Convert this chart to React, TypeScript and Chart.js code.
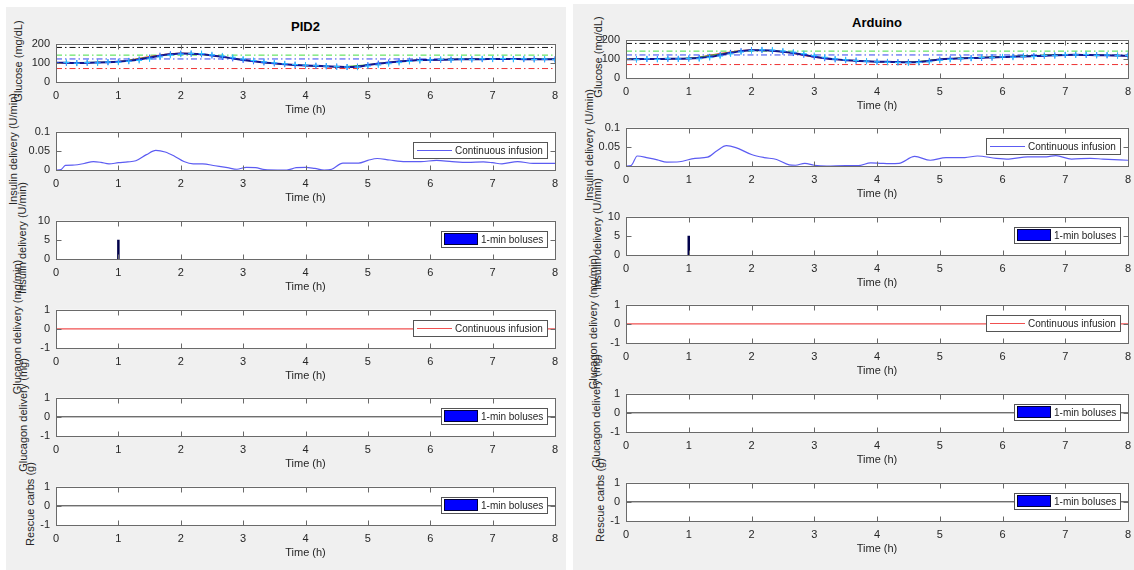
import React, { useEffect, useRef } from 'react';
import { Chart, registerables } from 'chart.js';

Chart.register(...registerables);

const FONT = '"Liberation Sans", Arial, Helvetica, sans-serif';
const TEXT = '#262626';

// ---------- shared axes ----------
const xTicks = [0, 1, 2, 3, 4, 5, 6, 7, 8];
const glucoseTicks = [0, 100, 200];
const insulinTicks = [0, 0.05, 0.1];
const bolusTicks = [0, 5, 10];
const unitTicks = [-1, 0, 1];

const timeMin10 = [0, 10, 20, 30, 40, 50, 60, 70, 80, 90, 100, 110, 120, 130, 140, 150, 160, 170, 180, 190, 200, 210, 220, 230, 240, 250, 260, 270, 280, 290, 300, 310, 320, 330, 340, 350, 360, 370, 380, 390, 400, 410, 420, 430, 440, 450, 460, 470, 480];
const timeMin30 = [0, 30, 60, 90, 120, 150, 180, 210, 240, 270, 300, 330, 360, 390, 420, 450, 480];

const thresholdLevels = [180, 140, 120, 70];
const thresholdColors = ['#111111', '#44dd44', '#3344ee', '#ee3333'];

// ---------- PID2 ----------
const pidBG = [100, 100, 99, 100, 101, 103, 106, 110, 117, 127, 137, 144, 148, 147, 144, 138, 131, 123, 115, 108, 102, 97, 93, 89, 86, 84, 82, 80, 78, 80, 88, 96, 102, 107, 111, 114, 115, 116, 117, 118, 119, 119, 120, 120, 120, 119, 119, 118, 118];
const pidCGM = [97, 102, 98, 101, 99, 104, 103, 108, 112, 120, 130, 139, 145, 149, 148, 142, 136, 129, 120, 112, 105, 100, 95, 91, 88, 85, 83, 80, 78, 77, 83, 88, 95, 101, 107, 111, 115, 118, 115, 120, 117, 121, 119, 122, 118, 121, 117, 120, 116];
const pidRed = [100, 101, 106, 133, 150, 139, 116, 96, 85, 78, 88, 106, 115, 118, 120, 119, 118];
const pidGreen = [101, 102, 106, 130, 149, 138, 115, 96, 86, 80, 90, 108, 116, 119, 120, 120, 119];
const pidInsT = [0, 0.08, 0.15, 0.3, 0.45, 0.6, 0.72, 0.85, 1.0, 1.15, 1.28, 1.45, 1.6, 1.75, 1.9, 2.05, 2.2, 2.35, 2.55, 2.75, 2.9, 3.05, 3.2, 3.35, 3.55, 3.7, 3.85, 4.0, 4.15, 4.3, 4.42, 4.6, 4.85, 5.0, 5.15, 5.35, 5.6, 5.85, 6.1, 6.35, 6.6, 6.85, 7.0, 7.15, 7.4, 7.65, 8.0];
const pidInsV = [0, 0.001, 0.012, 0.013, 0.017, 0.022, 0.02, 0.016, 0.019, 0.021, 0.024, 0.04, 0.051, 0.047, 0.036, 0.022, 0.016, 0.016, 0.011, 0.006, 0.002, 0.007, 0.006, 0.001, 0, 0, 0.006, 0.007, 0.004, 0, 0.002, 0.018, 0.018, 0.025, 0.03, 0.026, 0.022, 0.022, 0.025, 0.022, 0.02, 0.021, 0.019, 0.016, 0.022, 0.017, 0.017];

// ---------- Arduino ----------
const ardBG = [98, 98, 99, 99, 100, 100, 101, 104, 110, 120, 131, 140, 145, 145, 142, 137, 130, 121, 111, 103, 97, 93, 90, 87, 85, 84, 83, 82, 83, 89, 96, 100, 102, 104, 105, 107, 109, 111, 112, 114, 116, 118, 120, 121, 120, 119, 118, 117, 116];
const ardCGM = [99, 96, 100, 97, 101, 99, 102, 100, 106, 114, 125, 135, 142, 147, 146, 141, 135, 127, 117, 108, 100, 95, 91, 88, 84, 82, 80, 79, 81, 84, 92, 97, 101, 103, 107, 106, 110, 108, 113, 112, 117, 116, 121, 120, 123, 118, 120, 116, 117];
const ardRed = [98, 99, 102, 128, 146, 136, 108, 92, 84, 82, 97, 105, 110, 116, 121, 118, 116];
const ardGreen = [99, 100, 103, 125, 145, 137, 111, 93, 85, 83, 98, 106, 111, 117, 122, 119, 117];
const ardInsT = [0, 0.08, 0.18, 0.35, 0.5, 0.65, 0.85, 1.1, 1.3, 1.45, 1.6, 1.75, 2.0, 2.2, 2.4, 2.6, 2.7, 2.85, 3.0, 3.2, 3.5, 3.7, 3.9, 4.05, 4.2, 4.35, 4.6, 4.85, 5.1, 5.4, 5.6, 5.9, 6.1, 6.4, 6.7, 6.85, 7.1, 7.4, 7.6, 8.0];
const ardInsV = [0, 0.001, 0.026, 0.021, 0.016, 0.01, 0.011, 0.02, 0.023, 0.04, 0.053, 0.048, 0.03, 0.022, 0.017, 0.003, 0.002, 0.007, 0.002, 0, 0.001, 0.001, 0.008, 0.007, 0.006, 0.007, 0.025, 0.015, 0.022, 0.022, 0.026, 0.02, 0.018, 0.024, 0.024, 0.027, 0.018, 0.02, 0.018, 0.015];

// ---------- boluses / glucagon / carbs (both controllers) ----------
const bolusT = [1];
const bolusU = [5];
const flatT = [0, 8];
const flatV = [0, 0];

const yLabels = [
  'Glucose (mg/dL)',
  'Insulin delivery (U/min)',
  'Insulin delivery (U/min)',
  'Glucagon delivery (mg/min)',
  'Glucagon delivery (mg)',
  'Rescue carbs (g)',
];

// ---------- layout ----------
const PADL = 50;
const PADT = 8;
const PADR = 12;
const PADB = 35;

type Legend = { kind: 'line' | 'rect'; color: string; text: string };
type Spec = {
  key: string;
  x: number;
  y: number;
  w: number;
  h: number;
  yMin: number;
  yMax: number;
  yTicks: number[];
  datasets: any[];
  legend?: Legend;
};

const pts = (t: number[], v: number[], scaleT = 1) => t.map((tt, i) => ({ x: tt / scaleT, y: v[i] }));

function glucoseSets(bg: number[], cgm: number[], red: number[], green: number[]) {
  const thr = thresholdLevels.map((lv, i) => ({
    data: [{ x: 0, y: lv }, { x: 8, y: lv }],
    borderColor: thresholdColors[i],
    borderWidth: 1,
    borderDash: [6, 3, 1.5, 3],
    pointRadius: 0,
  }));
  // first dataset is drawn on top
  return [
    { data: pts(timeMin10, cgm, 60), showLine: false, pointStyle: 'cross', pointRadius: 3, pointBorderWidth: 1, pointBorderColor: '#2ec4ff', borderColor: '#2ec4ff' },
    { data: pts(timeMin10, bg, 60), borderColor: '#14148a', borderWidth: 2, pointStyle: 'cross', pointRadius: 3, pointBorderWidth: 1, pointBorderColor: '#2040ff', cubicInterpolationMode: 'monotone' },
    { data: pts(timeMin30, green, 60), borderColor: '#30c030', borderWidth: 1, pointRadius: 0, cubicInterpolationMode: 'monotone' },
    { data: pts(timeMin30, red, 60), borderColor: '#f04040', borderWidth: 1, pointRadius: 0, cubicInterpolationMode: 'monotone' },
    ...thr,
  ];
}

function bolusSet() {
  const data: any[] = [];
  bolusT.forEach((t, i) => {
    data.push({ x: t, y: 0 }, { x: t, y: bolusU[i] }, { x: t, y: NaN });
  });
  return [{ data, borderColor: '#00004a', borderWidth: 2.5, pointRadius: 0, spanGaps: false }];
}

function panelSpecs(prefix: string, plotX: number, plotW: number, tops: number[], h: number, bg: number[], cgm: number[], red: number[], green: number[], insT: number[], insV: number[]): Spec[] {
  const base = { x: plotX, w: plotW, h };
  return [
    { ...base, key: prefix + '1', y: tops[0], yMin: 0, yMax: 200, yTicks: glucoseTicks, datasets: glucoseSets(bg, cgm, red, green) },
    { ...base, key: prefix + '2', y: tops[1], yMin: 0, yMax: 0.1, yTicks: insulinTicks, datasets: [{ data: pts(insT, insV), borderColor: '#5c5cf2', borderWidth: 1.2, pointRadius: 0, cubicInterpolationMode: 'monotone' }], legend: { kind: 'line', color: '#5c5cf2', text: 'Continuous infusion' } },
    { ...base, key: prefix + '3', y: tops[2], yMin: 0, yMax: 10, yTicks: bolusTicks, datasets: bolusSet(), legend: { kind: 'rect', color: '#0000ff', text: '1-min boluses' } },
    { ...base, key: prefix + '4', y: tops[3], yMin: -1, yMax: 1, yTicks: unitTicks, datasets: [{ data: pts(flatT, flatV), borderColor: '#f05050', borderWidth: 1.2, pointRadius: 0 }], legend: { kind: 'line', color: '#f05050', text: 'Continuous infusion' } },
    { ...base, key: prefix + '5', y: tops[4], yMin: -1, yMax: 1, yTicks: unitTicks, datasets: [{ data: pts(flatT, flatV), borderColor: '#333333', borderWidth: 1, pointRadius: 0 }], legend: { kind: 'rect', color: '#0000ff', text: '1-min boluses' } },
    { ...base, key: prefix + '6', y: tops[5], yMin: -1, yMax: 1, yTicks: unitTicks, datasets: [{ data: pts(flatT, flatV), borderColor: '#333333', borderWidth: 1, pointRadius: 0 }], legend: { kind: 'rect', color: '#0000ff', text: '1-min boluses' } },
  ];
}

const LEFT = { plotX: 56, plotW: 499, tops: [39, 127, 216, 305, 393, 482], h: 43, title: 'PID2', titleY: 26, labelX: [18, 13, 22, 17, 23, 30] };
const RIGHT = { plotX: 626, plotW: 502, tops: [35, 123, 212, 300, 389, 478], h: 43, title: 'Arduino', titleY: 22, labelX: [598, 589, 597, 593, 596, 600] };

function fmt(v: number) {
  return String(Math.round(v * 1000) / 1000);
}

function buildConfig(s: Spec): any {
  const plugin = {
    id: 'matlabAxes',
    beforeDatasetsDraw(chart: any) {
      const { ctx, chartArea: a } = chart;
      ctx.save();
      ctx.fillStyle = '#ffffff';
      ctx.fillRect(a.left, a.top, a.right - a.left, a.bottom - a.top);
      ctx.restore();
    },
    afterDraw(chart: any) {
      const { ctx, chartArea: a, scales } = chart;
      const L = Math.round(a.left) + 0.5;
      const R = Math.round(a.right) + 0.5;
      const T = Math.round(a.top) + 0.5;
      const B = Math.round(a.bottom) + 0.5;
      ctx.save();
      ctx.strokeStyle = '#6a6a6a';
      ctx.lineWidth = 1;
      ctx.beginPath();
      xTicks.forEach((v) => {
        if (v === 0 || v === 8) return;
        const px = Math.round(scales.x.getPixelForValue(v)) + 0.5;
        ctx.moveTo(px, B); ctx.lineTo(px, B - 5);
        ctx.moveTo(px, T); ctx.lineTo(px, T + 5);
      });
      s.yTicks.forEach((v, i) => {
        if (i === 0 || i === s.yTicks.length - 1) return;
        const py = Math.round(scales.y.getPixelForValue(v)) + 0.5;
        ctx.moveTo(L, py); ctx.lineTo(L + 5, py);
        ctx.moveTo(R, py); ctx.lineTo(R - 5, py);
      });
      ctx.stroke();
      ctx.strokeRect(L, T, R - L, B - T);

      if (s.legend) {
        const lg = s.legend;
        ctx.font = `10px ${FONT}`;
        const tw = ctx.measureText(lg.text).width;
        const sample = lg.kind === 'line' ? 35 : 34;
        const w = Math.round((lg.kind === 'line' ? 4 : 3) + sample + 3 + tw + 4);
        const hh = 16;
        const right = Math.round(a.right) - 8;
        const left = right - w;
        const cy = Math.round((a.top + a.bottom) / 2) - 1;
        const top = cy - hh / 2;
        ctx.fillStyle = '#ffffff';
        ctx.fillRect(left, top, w, hh);
        ctx.strokeStyle = '#555555';
        ctx.strokeRect(left + 0.5, top + 0.5, w, hh);
        let tx = 0;
        if (lg.kind === 'line') {
          ctx.strokeStyle = lg.color;
          ctx.lineWidth = 1.2;
          ctx.beginPath();
          ctx.moveTo(left + 4, cy + 0.5);
          ctx.lineTo(left + 4 + sample, cy + 0.5);
          ctx.stroke();
          tx = left + 4 + sample + 3;
        } else {
          ctx.fillStyle = lg.color;
          ctx.fillRect(left + 3, cy - 6, sample, 12);
          ctx.strokeStyle = '#00003a';
          ctx.lineWidth = 1;
          ctx.strokeRect(left + 3.5, cy - 5.5, sample - 1, 11);
          tx = left + 3 + sample + 3;
        }
        ctx.fillStyle = TEXT;
        ctx.textBaseline = 'middle';
        ctx.textAlign = 'left';
        ctx.fillText(lg.text, tx, cy + 1);
      }
      ctx.restore();
    },
  };

  return {
    type: 'line',
    data: { datasets: s.datasets.map((d) => ({ fill: false, ...d })) },
    plugins: [plugin],
    options: {
      animation: false,
      responsive: false,
      maintainAspectRatio: false,
      devicePixelRatio: 1,
      layout: { padding: { top: PADT, right: PADR, left: 0, bottom: 0 } },
      plugins: { legend: { display: false }, tooltip: { enabled: false }, title: { display: false } },
      scales: {
        x: {
          type: 'linear',
          min: 0,
          max: 8,
          afterBuildTicks: (sc: any) => { sc.ticks = xTicks.map((v) => ({ value: v })); },
          afterFit: (sc: any) => { sc.height = PADB; },
          grid: { display: false, drawTicks: false, tickLength: 0 },
          border: { display: false },
          ticks: { padding: 7, color: TEXT, font: { size: 11, family: FONT }, maxRotation: 0, autoSkip: false, callback: (v: number) => fmt(v) },
          title: { display: true, text: 'Time (h)', color: TEXT, font: { size: 11, family: FONT }, padding: { top: 2, bottom: 0 } },
        },
        y: {
          type: 'linear',
          min: s.yMin,
          max: s.yMax,
          afterBuildTicks: (sc: any) => { sc.ticks = s.yTicks.map((v) => ({ value: v })); },
          afterFit: (sc: any) => { sc.width = PADL; },
          grid: { display: false, drawTicks: false, tickLength: 0 },
          border: { display: false },
          ticks: { padding: 6, color: TEXT, font: { size: 11, family: FONT }, autoSkip: false, callback: (v: number) => fmt(v) },
        },
      },
    },
  };
}

function ChartBox({ spec }: { spec: Spec }) {
  const ref = useRef<HTMLCanvasElement>(null);
  const cw = spec.w + PADL + PADR;
  const ch = spec.h + PADT + PADB;
  useEffect(() => {
    if (!ref.current) return;
    const c = new Chart(ref.current, buildConfig(spec));
    return () => c.destroy();
  }, []);
  return (
    <canvas
      ref={ref}
      width={cw}
      height={ch}
      style={{ position: 'absolute', left: spec.x - PADL, top: spec.y - PADT, width: cw, height: ch }}
    />
  );
}

function Panel({ p, specs }: { p: typeof LEFT; specs: Spec[] }) {
  return (
    <>
      <div style={{ position: 'absolute', left: p.plotX + p.plotW / 2, top: p.titleY, transform: 'translate(-50%, -50%)', font: `bold 13px ${FONT}`, color: '#000', whiteSpace: 'nowrap' }}>{p.title}</div>
      {specs.map((s, i) => (
        <div
          key={'yl' + s.key}
          style={{ position: 'absolute', left: p.labelX[i], top: s.y + s.h / 2, transform: 'translate(-50%, -50%) rotate(-90deg)', font: `11px ${FONT}`, color: TEXT, whiteSpace: 'nowrap', lineHeight: '12px' }}
        >
          {yLabels[i]}
        </div>
      ))}
      {specs.map((s) => <ChartBox key={s.key} spec={s} />)}
    </>
  );
}

export default function App() {
  useEffect(() => {
    document.body.style.margin = '0';
  }, []);
  const leftSpecs = panelSpecs('L', LEFT.plotX, LEFT.plotW, LEFT.tops, LEFT.h, pidBG, pidCGM, pidRed, pidGreen, pidInsT, pidInsV);
  const rightSpecs = panelSpecs('R', RIGHT.plotX, RIGHT.plotW, RIGHT.tops, RIGHT.h, ardBG, ardCGM, ardRed, ardGreen, ardInsT, ardInsV);
  return (
    <div style={{ position: 'relative', width: 1134, height: 570, background: '#ffffff', overflow: 'hidden' }}>
      <div style={{ position: 'absolute', left: 6, top: 7, width: 560, height: 563, background: '#f0f0f0' }} />
      <div style={{ position: 'absolute', left: 573, top: 4, width: 561, height: 566, background: '#f0f0f0' }} />
      <Panel p={LEFT} specs={leftSpecs} />
      <Panel p={RIGHT} specs={rightSpecs} />
    </div>
  );
}
